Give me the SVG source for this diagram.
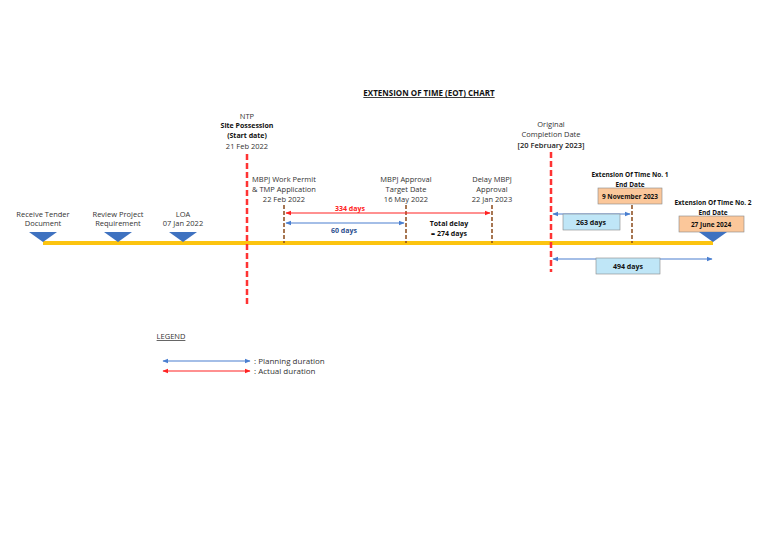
<svg xmlns="http://www.w3.org/2000/svg" width="768" height="543" viewBox="0 0 768 543">
<defs>
<style>
text{font-family:"Open Sans","Liberation Sans",sans-serif;font-size:7.5px;fill:#333;text-anchor:middle}
.b{font-weight:bold;fill:#111;font-size:7px}
.red{stroke:#f22;stroke-width:1.2}
.blue{stroke:#4a7fd0;stroke-width:1.2}
.reddash{stroke:#f33;stroke-width:2.5;stroke-dasharray:6,3}
.brown{stroke:#8a4a1a;stroke-width:1.5;stroke-dasharray:4,2}
.tri{fill:#3f72c0}
</style>
<marker id="ar" viewBox="0 0 10 10" refX="9" refY="5" markerWidth="5" markerHeight="5" orient="auto-start-reverse"><path d="M0,1L10,5L0,9z" fill="#f22"/></marker>
<marker id="ab" viewBox="0 0 10 10" refX="9" refY="5" markerWidth="5" markerHeight="5" orient="auto-start-reverse"><path d="M0,1L10,5L0,9z" fill="#4a7fd0"/></marker>
</defs>
<rect width="768" height="543" fill="#fff"/>
<text x="429" y="96" style="font-size:8px;font-weight:bold;fill:#111;text-decoration:underline">EXTENSION OF TIME (EOT) CHART</text>
<g id="timeline"><line x1="43" y1="243" x2="713" y2="243" stroke="#fcc410" stroke-width="4"/></g>
<g id="connectors">
<line class="reddash" x1="247" y1="154" x2="247" y2="305"/>
<line class="reddash" x1="551" y1="152" x2="551" y2="272"/>
<line class="brown" x1="284" y1="205" x2="284" y2="243"/>
<line class="brown" x1="406" y1="205" x2="406" y2="243"/>
<line class="brown" x1="492" y1="205" x2="492" y2="243"/>
<line class="brown" x1="632" y1="205" x2="632" y2="243"/>
<line class="red" x1="286" y1="213" x2="490" y2="213" marker-start="url(#ar)" marker-end="url(#ar)"/>
<line class="blue" x1="286" y1="223" x2="404" y2="223" marker-start="url(#ab)" marker-end="url(#ab)"/>
<line class="blue" x1="553" y1="214" x2="630" y2="214" marker-start="url(#ab)" marker-end="url(#ab)"/>
<line class="blue" x1="553" y1="259" x2="712" y2="259" marker-start="url(#ab)" marker-end="url(#ab)"/>
<line class="blue" x1="163" y1="361" x2="250" y2="361" marker-start="url(#ab)" marker-end="url(#ab)"/>
<line class="red" x1="163" y1="371" x2="250" y2="371" marker-start="url(#ar)" marker-end="url(#ar)"/>
</g>
<g id="receive"><path class="tri" d="M29,232H57L43,242z"/><text x="43" y="217">Receive Tender</text><text x="43" y="226">Document</text></g>
<g id="review"><path class="tri" d="M104,232H132L118,242z"/><text x="118" y="217">Review Project</text><text x="118" y="226">Requirement</text></g>
<g id="loa"><path class="tri" d="M169,232H197L183,242z"/><text x="183" y="217">LOA</text><text x="183" y="226">07 Jan 2022</text></g>
<g id="ntp"><text x="247" y="119">NTP</text><text x="247" y="128" class="b">Site Possession</text><text x="247" y="138" class="b">(Start date)</text><text x="247" y="149">21 Feb 2022</text></g>
<g id="permit"><text x="284" y="182">MBPJ Work Permit</text><text x="284" y="192">&amp; TMP Application</text><text x="284" y="202">22 Feb 2022</text></g>
<g id="approval"><text x="406" y="182">MBPJ Approval</text><text x="406" y="192">Target Date</text><text x="406" y="202">16 May 2022</text></g>
<g id="delay"><text x="492" y="182">Delay MBPJ</text><text x="492" y="192">Approval</text><text x="492" y="202">22 Jan 2023</text></g>
<g id="labels"><text x="350" y="211" class="b" style="fill:#f22">334 days</text><text x="344" y="233" class="b" style="fill:#2d4f8f">60 days</text><text x="449" y="226" class="b">Total delay</text><text x="449" y="236" class="b">= 274 days</text></g>
<g id="original"><text x="551" y="127">Original</text><text x="551" y="137">Completion Date</text><text x="551" y="148" style="font-weight:600;fill:#222">[20 February 2023]</text></g>
<g id="d263"><rect x="563" y="214" width="57" height="16" fill="#bfe6f7" stroke="#888" stroke-width="0.6"/><text x="591" y="225" class="b">263 days</text></g>
<g id="d494"><rect x="596" y="258" width="64" height="16" fill="#bfe6f7" stroke="#888" stroke-width="0.6"/><text x="628" y="269" class="b">494 days</text></g>
<g id="eot1"><text x="630" y="177" class="b" style="font-size:6.5px">Extension Of Time No. 1</text><text x="630" y="187" class="b" style="font-size:6.5px">End Date</text><rect x="598" y="188" width="64" height="16" fill="#fbc79a" stroke="#888" stroke-width="0.6"/><text x="630" y="199" class="b" style="font-size:6.5px">9 November 2023</text></g>
<g id="eot2"><text x="713" y="205" class="b" style="font-size:6.5px">Extension Of Time No. 2</text><text x="713" y="215" class="b" style="font-size:6.5px">End Date</text><rect x="679" y="216" width="65" height="16" fill="#fbc79a" stroke="#888" stroke-width="0.6"/><text x="711" y="227" class="b" style="font-size:6.5px">27 June 2024</text><path class="tri" d="M699,232H727L713,242z"/></g>
<g id="legend"><text x="171" y="339" style="text-decoration:underline">LEGEND</text><text x="254" y="364" style="text-anchor:start;font-size:8px">: Planning duration</text><text x="254" y="374" style="text-anchor:start;font-size:8px">: Actual duration</text></g>
</svg>
